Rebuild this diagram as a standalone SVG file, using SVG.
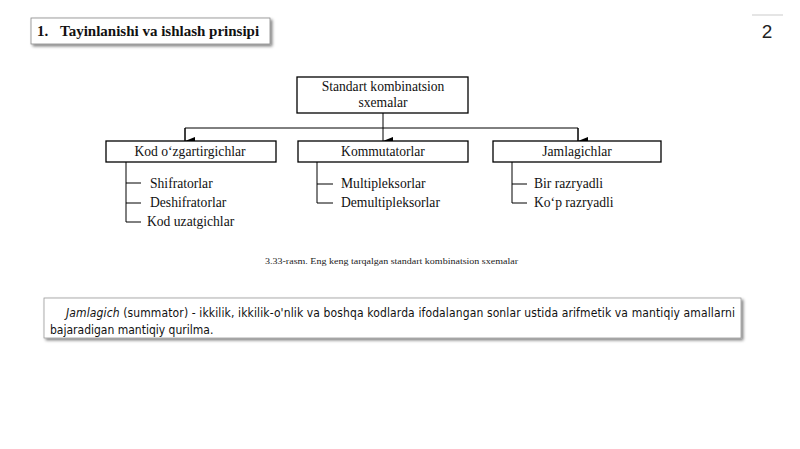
<svg xmlns="http://www.w3.org/2000/svg" width="800" height="449" viewBox="0 0 800 449">
<defs>
<marker id="arr" markerWidth="8" markerHeight="10" refX="4" refY="10" orient="auto" markerUnits="userSpaceOnUse" viewBox="0 0 8 10">
<path d="M0,0 L8,0 L4,10 Z" fill="#000"/>
</marker>
<filter id="sh" x="-5%" y="-20%" width="110%" height="150%">
<feGaussianBlur in="SourceAlpha" stdDeviation="1.5"/>
<feOffset dx="2" dy="2"/>
<feComponentTransfer><feFuncA type="linear" slope="0.5"/></feComponentTransfer>
<feMerge><feMergeNode/><feMergeNode in="SourceGraphic"/></feMerge>
</filter>
</defs>
<style>
.box{fill:#fff;stroke:#000;stroke-width:1.3}
.t{font-family:"Liberation Serif","Times New Roman",serif;font-size:13.6px;fill:#111}
.ln{stroke:#000;stroke-width:1;fill:none}
.para{font-family:"DejaVu Sans","Open Sans",sans-serif;font-stretch:condensed;font-size:12px;fill:#111}
</style>
<rect width="800" height="449" fill="#fff"/>
<g id="title">
<rect x="31" y="18" width="239" height="26" fill="#fff" stroke="#888" stroke-width="0.8" filter="url(#sh)"/>
<text x="37" y="36" font-family="Liberation Serif,serif" font-weight="bold" font-size="15" fill="#111">1.<tspan x="60">Tayinlanishi va ishlash prinsipi</tspan></text>
</g>
<g id="page-number">
<line x1="752" y1="15" x2="783" y2="15" stroke="#ddd" stroke-width="1.5"/>
<text x="767" y="38" font-family="Liberation Sans,Arial,sans-serif" font-size="19" fill="#222" text-anchor="middle">2</text>
</g>
<g id="connectors">
<line class="ln" x1="383" y1="113" x2="383" y2="141" marker-end="url(#arr)"/>
<polyline class="ln" points="185,141 185,128 578,128 578,141"/>
<line class="ln" x1="185" y1="128" x2="185" y2="141" marker-end="url(#arr)"/>
<line class="ln" x1="578" y1="128" x2="578" y2="141" marker-end="url(#arr)"/>
<polyline class="ln" points="126,162 126,222 141,222"/>
<line class="ln" x1="126" y1="183" x2="141" y2="183"/>
<line class="ln" x1="126" y1="203" x2="141" y2="203"/>
<polyline class="ln" points="317,162 317,203 333,203"/>
<line class="ln" x1="317" y1="184" x2="333" y2="184"/>
<polyline class="ln" points="512,162 512,203 527,203"/>
<line class="ln" x1="512" y1="184" x2="527" y2="184"/>
</g>
<g id="root">
<rect class="box" x="297" y="77" width="171" height="36"/>
<text class="t" x="383" y="91" text-anchor="middle">Standart kombinatsion</text>
<text class="t" x="383" y="107" text-anchor="middle">sxemalar</text>
</g>
<g id="kod">
<rect class="box" x="106" y="141" width="170" height="21"/>
<text class="t" x="190" y="156" text-anchor="middle">Kod o‘zgartirgichlar</text>
</g>
<g id="kommutator">
<rect class="box" x="298" y="141" width="170" height="21"/>
<text class="t" x="383" y="156" text-anchor="middle">Kommutatorlar</text>
</g>
<g id="jamlagich">
<rect class="box" x="493" y="141" width="168" height="21"/>
<text class="t" x="577" y="156" text-anchor="middle">Jamlagichlar</text>
</g>
<g id="kod-items">
<text class="t" x="150" y="188">Shifratorlar</text>
<text class="t" x="150" y="207">Deshifratorlar</text>
<text class="t" x="147" y="226">Kod uzatgichlar</text>
</g>
<g id="kommutator-items">
<text class="t" x="341" y="188">Multipleksorlar</text>
<text class="t" x="341" y="207">Demultipleksorlar</text>
</g>
<g id="jamlagich-items">
<text class="t" x="534" y="188">Bir razryadli</text>
<text class="t" x="534" y="207">Ko‘p razryadli</text>
</g>
<g id="caption">
<text x="265" y="264" font-family="Liberation Serif,serif" font-size="8.5" fill="#222" textLength="253" lengthAdjust="spacingAndGlyphs">3.33-rasm. Eng keng tarqalgan standart kombinatsion sxemalar</text>
</g>
<g id="definition">
<rect x="44" y="298" width="697" height="40" fill="#fff" stroke="#999" stroke-width="0.8" filter="url(#sh)"/>
<text class="para" x="66" y="317" textLength="669" lengthAdjust="spacing"><tspan font-style="italic">Jamlagich</tspan> (summator) - ikkilik, ikkilik-o'nlik va boshqa kodlarda ifodalangan sonlar ustida arifmetik va mantiqiy amallarni</text>
<text class="para" x="50" y="334">bajaradigan mantiqiy qurilma.</text>
</g>
</svg>
